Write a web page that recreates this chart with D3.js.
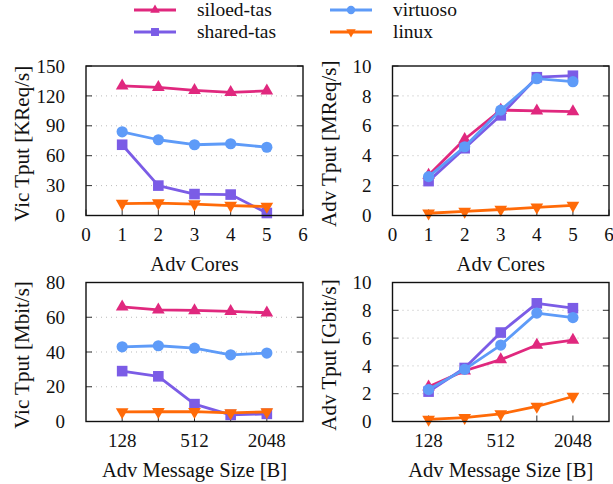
<!DOCTYPE html>
<html><head><meta charset="utf-8">
<script src="https://cdn.jsdelivr.net/npm/d3@7"></script>
<style>body{margin:0;background:#fff}svg{display:block}</style>
</head><body><svg id="c" width="613" height="484"></svg>
<script>
const seriesNames = ["siloed-tas","shared-tas","virtuoso","linux"];
const seriesColors = ["#e0287e","#7b5ce6","#5e9bf8","#ff6a08"];
const seriesMarkers = ["triangle","square","circle","triangleDown"];
const coresX = [1,2,3,4,5];
const msgX = [128,256,512,1024,2048];
const coreTicks = [0,1,2,3,4,5,6];
const msgTicks = [128,512,2048];
// Panel A: Vic Tput [KReq/s] vs Adv Cores
const vicReq = {
  "siloed-tas":[130,128.5,125.5,123.5,125],
  "shared-tas":[71,30,21.5,21,2.5],
  "virtuoso":[84,76,71,72,68.5],
  "linux":[12,12.5,11.5,10,9]
};
// Panel B: Adv Tput [MReq/s] vs Adv Cores
const advReq = {
  "siloed-tas":[2.7,5.1,7.05,7.0,6.95],
  "shared-tas":[2.3,4.5,6.7,9.25,9.35],
  "virtuoso":[2.6,4.6,7.05,9.15,8.95],
  "linux":[0.15,0.28,0.4,0.55,0.68]
};
// Panel C: Vic Tput [Mbit/s] vs Adv Message Size
const vicBit = {
  "siloed-tas":[66,64.3,63.9,63.4,62.6],
  "shared-tas":[29,26,10,3.8,4.4],
  "virtuoso":[43,43.6,42.2,38.4,39.4],
  "linux":[5.5,5.6,5.7,5,5.5]
};
// Panel D: Adv Tput [Gbit/s] vs Adv Message Size
const advBit = {
  "siloed-tas":[2.5,3.65,4.45,5.5,5.85],
  "shared-tas":[2.15,3.85,6.4,8.5,8.15],
  "virtuoso":[2.3,3.75,5.5,7.8,7.48],
  "linux":[0.15,0.28,0.55,1.08,1.8]
};
const panels = [
  {data:vicReq, xs:coresX, log:false, yMax:150, yTicks:[0,30,60,90,120,150], yLabel:"Vic Tput [KReq/s]", xLabel:"Adv Cores", L:86, R:303, T:66, B:215.5},
  {data:advReq, xs:coresX, log:false, yMax:10, yTicks:[0,2,4,6,8,10], yLabel:"Adv Tput [MReq/s]", xLabel:"Adv Cores", L:392.5, R:609, T:66, B:215.5},
  {data:vicBit, xs:msgX, log:true, yMax:80, yTicks:[0,20,40,60,80], yLabel:"Vic Tput [Mbit/s]", xLabel:"Adv Message Size [B]", L:86, R:303, T:282.5, B:421.5},
  {data:advBit, xs:msgX, log:true, yMax:10, yTicks:[0,2,4,6,8,10], yLabel:"Adv Tput [Gbit/s]", xLabel:"Adv Message Size [B]", L:392.5, R:609, T:282.5, B:421.5}
];
const FONT = "'Liberation Serif', 'DejaVu Serif', 'Times New Roman', serif";
const svg = d3.select("#c").attr("font-family", FONT);
const FS = 19, LFS = 20.5;
function T(g, fs=FS){ return g.append("text").attr("font-family",FONT).attr("font-size",fs).attr("fill","#111"); }
function marker(g, type, x, y, color, s=1){
  if(type==="circle") g.append("circle").attr("cx",x).attr("cy",y).attr("r",5.6*s).attr("fill",color);
  else if(type==="square") g.append("rect").attr("x",x-5.3*s).attr("y",y-5.3*s).attr("width",10.6*s).attr("height",10.6*s).attr("fill",color);
  else {
    const sym = d3.symbol().type(d3.symbolTriangle).size(70*s*s);
    g.append("path").attr("d",sym()).attr("transform",`translate(${x},${y})${type==="triangleDown"?" rotate(180)":""}`).attr("fill",color);
  }
}
panels.forEach(p=>{
  const x = p.log ? d3.scaleLog().base(2).domain([64,4096]).range([p.L,p.R]) : d3.scaleLinear().domain([0,6]).range([p.L,p.R]);
  const y = d3.scaleLinear().domain([0,p.yMax]).range([p.B,p.T]);
  const g = svg.append("g");
  p.yTicks.slice(1,-1).forEach(t=>{
    g.append("line").attr("x1",p.L).attr("x2",p.R).attr("y1",y(t)).attr("y2",y(t)).attr("stroke","#bbb").attr("stroke-width",1).attr("stroke-dasharray","1,4");
  });
  p.yTicks.forEach(t=>{
    g.append("line").attr("x1",p.L).attr("x2",p.L+6).attr("y1",y(t)).attr("y2",y(t)).attr("stroke","#333");
    g.append("line").attr("x1",p.R).attr("x2",p.R-6).attr("y1",y(t)).attr("y2",y(t)).attr("stroke","#333");
    T(g).attr("x",p.L-21).attr("y",y(t)).attr("dy","0.35em").attr("text-anchor","end").text(t);
  });
  const xt = p.log ? p.xs : coreTicks;
  xt.forEach(t=>{
    g.append("line").attr("x1",x(t)).attr("x2",x(t)).attr("y1",p.B).attr("y2",p.B-6).attr("stroke","#333");
  });
  (p.log ? msgTicks : coreTicks).forEach(t=>{
    T(g).attr("x",x(t)).attr("y",p.B+19).attr("dy","0.35em").attr("text-anchor","middle").text(t);
  });
  T(g,LFS).attr("x",(p.L+p.R)/2).attr("y",p.B+48).attr("dy","0.35em").attr("text-anchor","middle").text(p.xLabel);
  T(g,LFS+0.5).attr("transform",`translate(${p.L-64},${(p.T+p.B)/2+3}) rotate(-90)`).attr("dy","0.35em").attr("text-anchor","middle").text(p.yLabel);
  const line = d3.line().x(d=>x(d[0])).y(d=>y(d[1]));
  seriesNames.forEach((n,i)=>{
    const pts = p.xs.map((xv,j)=>[xv,p.data[n][j]]);
    g.append("path").attr("d",line(pts)).attr("fill","none").attr("stroke",seriesColors[i]).attr("stroke-width",2.8).attr("stroke-linejoin","round");
    pts.forEach(d=>marker(g,seriesMarkers[i],x(d[0]),y(d[1]),seriesColors[i]));
  });
  g.append("rect").attr("x",p.L).attr("y",p.T).attr("width",p.R-p.L).attr("height",p.B-p.T).attr("fill","none").attr("stroke","#111").attr("stroke-width",1.4);
});
const legPos = [[134,10],[134,32],[330,10],[330,32]];
seriesNames.forEach((n,i)=>{
  const [lx,ly] = legPos[i];
  const g = svg.append("g");
  g.append("line").attr("x1",lx).attr("x2",lx+42).attr("y1",ly).attr("y2",ly).attr("stroke",seriesColors[i]).attr("stroke-width",2.8);
  marker(g,seriesMarkers[i],lx+21,ly,seriesColors[i],0.75);
  T(g,19.5).attr("x",lx+63).attr("y",ly).attr("dy","0.32em").text(n);
});
</script></body></html>
